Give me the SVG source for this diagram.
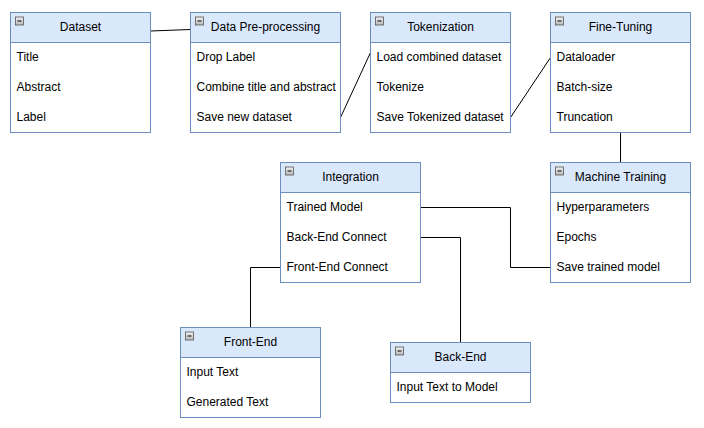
<svg xmlns="http://www.w3.org/2000/svg" width="704" height="428" viewBox="0 0 704 428">
<defs>
<linearGradient id="ig" x1="0" y1="0" x2="0" y2="1"><stop offset="0" stop-color="#f2f2f2"/><stop offset="1" stop-color="#b8b8b8"/></linearGradient>
<g id="icon"><rect x="0" y="0" width="8" height="8" fill="url(#ig)" stroke="#555" stroke-width="0.8"/><line x1="2" y1="4" x2="6" y2="4" stroke="#000" stroke-width="1"/></g>
</defs>
<style>
.hd{fill:#dae8fc;stroke:#6c8ebf;stroke-width:1}
.bd{fill:#ffffff;stroke:#6c8ebf;stroke-width:1}
.t{font-family:"Liberation Sans",Arial,sans-serif;font-size:12px;fill:#000}
.c{text-anchor:middle}
.ln{fill:none;stroke:#000;stroke-width:1}
</style>
<rect width="704" height="428" fill="#fff"/>
<g id="connectors">
<path class="ln" d="M150.5 31 L190.5 29.5"/>
<path class="ln" d="M340.5 117.5 L370.5 52.5"/>
<path class="ln" d="M510.5 117.5 L550.5 57.5"/>
<path class="ln" d="M620.5 132.5 L620.5 162.5"/>
<path class="ln" d="M420.5 207.5 L510.5 207.5 L510.5 267.5 L550.5 267.5"/>
<path class="ln" d="M420.5 237.5 L460.5 237.5 L460.5 342.5"/>
<path class="ln" d="M280.5 267.5 L250.5 267.5 L250.5 327.5"/>
</g>
<g id="dataset">
<rect class="bd" x="10.5" y="12.5" width="140" height="120"/>
<rect class="hd" x="10.5" y="12.5" width="140" height="30"/>
<use href="#icon" x="15.5" y="17"/>
<text class="t c" x="80.5" y="30.5">Dataset</text>
<text class="t" x="16.5" y="60.5">Title</text>
<text class="t" x="16.5" y="90.5">Abstract</text>
<text class="t" x="16.5" y="120.5">Label</text>
</g>
<g id="preprocessing">
<rect class="bd" x="190.5" y="12.5" width="150" height="120"/>
<rect class="hd" x="190.5" y="12.5" width="150" height="30"/>
<use href="#icon" x="195.5" y="17"/>
<text class="t c" x="265.5" y="30.5">Data Pre-processing</text>
<text class="t" x="196.5" y="60.5">Drop Label</text>
<text class="t" x="196.5" y="90.5">Combine title and abstract</text>
<text class="t" x="196.5" y="120.5">Save new dataset</text>
</g>
<g id="tokenization">
<rect class="bd" x="370.5" y="12.5" width="140" height="120"/>
<rect class="hd" x="370.5" y="12.5" width="140" height="30"/>
<use href="#icon" x="375.5" y="17"/>
<text class="t c" x="440.5" y="30.5">Tokenization</text>
<text class="t" x="376.5" y="60.5">Load combined dataset</text>
<text class="t" x="376.5" y="90.5">Tokenize</text>
<text class="t" x="376.5" y="120.5">Save Tokenized dataset</text>
</g>
<g id="finetuning">
<rect class="bd" x="550.5" y="12.5" width="140" height="120"/>
<rect class="hd" x="550.5" y="12.5" width="140" height="30"/>
<use href="#icon" x="555.5" y="17"/>
<text class="t c" x="620.5" y="30.5">Fine-Tuning</text>
<text class="t" x="556.5" y="60.5">Dataloader</text>
<text class="t" x="556.5" y="90.5">Batch-size</text>
<text class="t" x="556.5" y="120.5">Truncation</text>
</g>
<g id="training">
<rect class="bd" x="550.5" y="162.5" width="140" height="120"/>
<rect class="hd" x="550.5" y="162.5" width="140" height="30"/>
<use href="#icon" x="555.5" y="167"/>
<text class="t c" x="620.5" y="180.5">Machine Training</text>
<text class="t" x="556.5" y="210.5">Hyperparameters</text>
<text class="t" x="556.5" y="240.5">Epochs</text>
<text class="t" x="556.5" y="270.5">Save trained model</text>
</g>
<g id="integration">
<rect class="bd" x="280.5" y="162.5" width="140" height="120"/>
<rect class="hd" x="280.5" y="162.5" width="140" height="30"/>
<use href="#icon" x="285.5" y="167"/>
<text class="t c" x="350.5" y="180.5">Integration</text>
<text class="t" x="286.5" y="210.5">Trained Model</text>
<text class="t" x="286.5" y="240.5">Back-End Connect</text>
<text class="t" x="286.5" y="270.5">Front-End Connect</text>
</g>
<g id="frontend">
<rect class="bd" x="180.5" y="327.5" width="140" height="90"/>
<rect class="hd" x="180.5" y="327.5" width="140" height="30"/>
<use href="#icon" x="185.5" y="332"/>
<text class="t c" x="250.5" y="345.5">Front-End</text>
<text class="t" x="186.5" y="375.5">Input Text</text>
<text class="t" x="186.5" y="405.5">Generated Text</text>
</g>
<g id="backend">
<rect class="bd" x="390.5" y="342.5" width="140" height="60"/>
<rect class="hd" x="390.5" y="342.5" width="140" height="30"/>
<use href="#icon" x="395.5" y="347"/>
<text class="t c" x="460.5" y="360.5">Back-End</text>
<text class="t" x="396.5" y="390.5">Input Text to Model</text>
</g>
</svg>
